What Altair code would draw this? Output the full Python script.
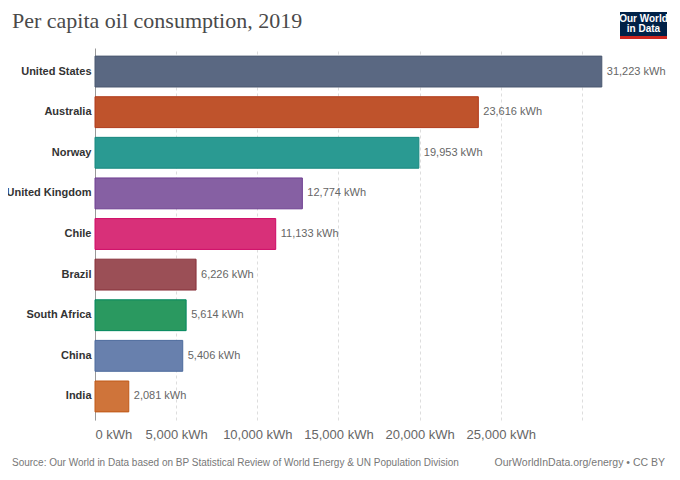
import altair as alt
import pandas as pd

countries = ["United States", "Australia", "Norway", "United Kingdom", "Chile",
             "Brazil", "South Africa", "China", "India"]
values = [31223, 23616, 19953, 12774, 11133, 6226, 5614, 5406, 2081]
fills = ["#5A6882", "#BF532C", "#2A9A92", "#8660A3", "#D83079",
         "#9B4F56", "#2A9960", "#6880AD", "#CF743A"]
strokes = ["#4A5870", "#B03A1A", "#18887F", "#6E3E91", "#CF0A66",
           "#883039", "#00875E", "#4C6A9C", "#C05917"]
x_ticks = [0, 5000, 10000, 15000, 20000, 25000, 30000]

title_text = "Per capita oil consumption, 2019"
source_text = "Source: Our World in Data based on BP Statistical Review of World Energy & UN Population Division"
credit_text = "OurWorldInData.org/energy • CC BY"

df = pd.DataFrame({"country": countries, "value": values,
                   "fill": fills, "stroke": strokes})

W, H = 560, 372
FONT = "Liberation Sans"

base = alt.Chart(df)

y_enc = alt.Y("country:N", sort=countries, title=None,
              scale=alt.Scale(paddingInner=0.24, paddingOuter=0.2),
              axis=alt.Axis(labelFont=FONT, labelFontWeight="bold", labelFontSize=11,
                            labelColor="#333333", ticks=False, labelPadding=4,
                            labelLimit=200,
                            domainColor="#999999", domainWidth=1, grid=False))
x_enc = alt.X("value:Q", title=None,
              scale=alt.Scale(domain=[0, 34500], nice=False, zero=True),
              axis=alt.Axis(values=x_ticks, labelFont=FONT, labelFontSize=13,
                            labelColor="#666666", ticks=False, domain=False,
                            labelPadding=8, labelFlush=True,
                            labelExpr="datum.value == 30000 ? '' : format(datum.value, ',') + ' kWh'",
                            grid=True, gridDash=[3, 3], gridColor="#dddddd",
                            gridWidth=1))

bars = base.mark_bar(strokeWidth=1).encode(
    x=x_enc, y=y_enc,
    fill=alt.Fill("fill:N", scale=None),
    stroke=alt.Stroke("stroke:N", scale=None),
)

labels = base.transform_calculate(
    label="format(datum.value, ',') + ' kWh'"
).mark_text(align="left", baseline="middle", dx=5, font=FONT, fontSize=11,
            color="#666666").encode(
    x="value:Q", y=alt.Y("country:N", sort=countries), text="label:N")

one = alt.Chart(pd.DataFrame({"k": [0]}))

title = one.mark_text(align="left", baseline="alphabetic", font="Liberation Serif",
                      fontSize=22, color="#4a4a4a").encode(
    x=alt.value(-83), y=alt.value(-20), text=alt.value(title_text))

source = one.mark_text(align="left", baseline="middle", font=FONT, fontSize=10,
                       color="#777777").encode(
    x=alt.value(-83), y=alt.value(415), text=alt.value(source_text))

credit = one.mark_text(align="right", baseline="middle", font=FONT, fontSize=10.5,
                       color="#777777").encode(
    x=alt.value(570), y=alt.value(415), text=alt.value(credit_text))

logo_bg = one.mark_rect(color="#002147").encode(
    x=alt.value(525), x2=alt.value(572), y=alt.value(-36), y2=alt.value(-9))
logo_red = one.mark_rect(color="#ce261e").encode(
    x=alt.value(525), x2=alt.value(572), y=alt.value(-12), y2=alt.value(-9))
logo_t1 = one.mark_text(align="center", baseline="middle", font=FONT,
                        fontWeight="bold", fontSize=10, color="white").encode(
    x=alt.value(548.5), y=alt.value(-29), text=alt.value("Our World"))
logo_t2 = one.mark_text(align="center", baseline="middle", font=FONT,
                        fontWeight="bold", fontSize=10, color="white").encode(
    x=alt.value(548.5), y=alt.value(-19), text=alt.value("in Data"))

chart = alt.layer(bars, labels, title, source, credit,
                  logo_bg, logo_red, logo_t1, logo_t2).properties(
    width=W, height=H,
    autosize=alt.AutoSizeParams(type="none"),
    padding={"left": 87, "top": 40, "right": 17, "bottom": 52},
    background="white",
).configure_view(stroke=None)

chart.save("out.html", embed_options={"renderer": "svg", "actions": False})
